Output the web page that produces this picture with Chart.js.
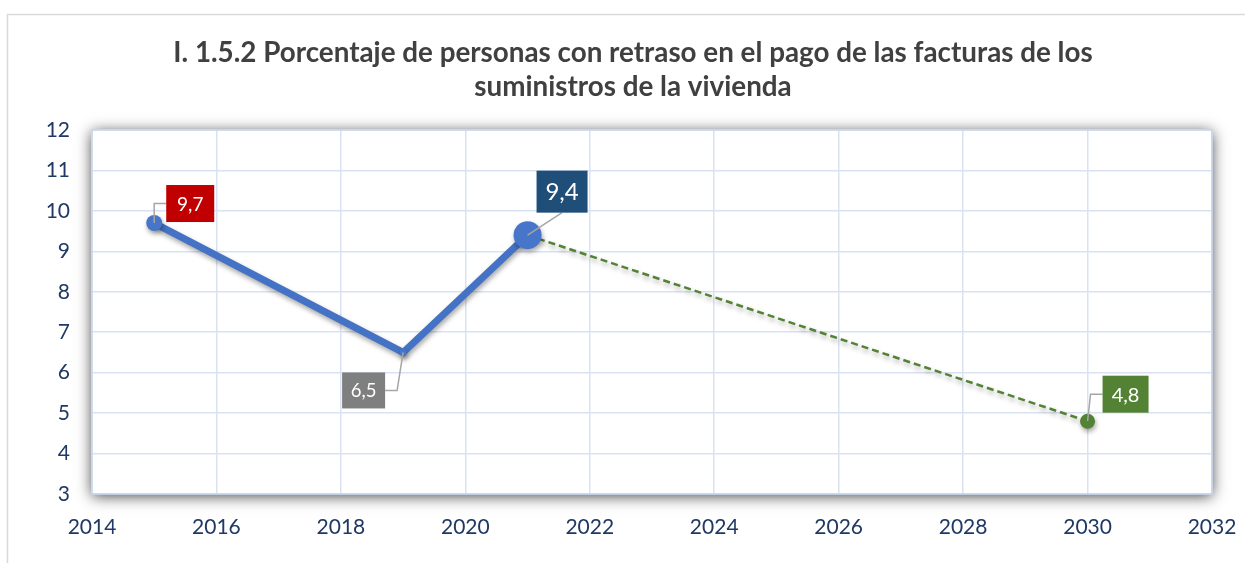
<!DOCTYPE html>
<html><head><meta charset="utf-8">
<script src="https://cdn.jsdelivr.net/npm/chart.js@4.4.1/dist/chart.umd.min.js"></script>
<style>html,body{margin:0;padding:0;background:#fff;overflow:hidden}canvas{display:block}</style>
</head><body>
<canvas id="c" width="1245" height="563"></canvas>
<script>
const titleLines = ['I. 1.5.2 Porcentaje de personas con retraso en el pago de las facturas de los', 'suministros de la vivienda'];
const actualYears = [2015, 2019, 2021];
const actualValues = [9.7, 6.5, 9.4];
const targetYears = [2021, 2030];
const targetValues = [9.4, 4.8];
const xTickValues = [2014, 2016, 2018, 2020, 2022, 2024, 2026, 2028, 2030, 2032];
const yTickValues = [3, 4, 5, 6, 7, 8, 9, 10, 11, 12];

// label box styling (offsets in pixels from the point, sizes, colours)
const labelStyles = [
  {ds: 0, i: 0, bg: '#c00000', size: 19, dx: 36, dy: -19.5, w: 48, h: 37, leader: 'elbow'},
  {ds: 0, i: 1, bg: '#7f7f7f', size: 18.5, dx: -39.5, dy: 38, w: 43, h: 36, leader: 'elbow'},
  {ds: 0, i: 2, bg: '#1f4e79', size: 24, dx: 34.5, dy: -43.5, w: 51, h: 42, leader: 'straight'},
  {ds: 1, i: 1, bg: '#548235', size: 20, dx: 38, dy: -27, w: 46, h: 37, leader: 'elbow'}
];

const fmt = v => v.toFixed(1).replace('.', ',');

const framePlugin = {
  id: 'frame',
  beforeDraw(chart) {
    const ctx = chart.ctx, a = chart.chartArea;
    ctx.save();
    ctx.fillStyle = '#fff';
    ctx.fillRect(0, 0, chart.width, chart.height);
    ctx.strokeStyle = '#d9d9d9';
    ctx.lineWidth = 1.5;
    ctx.strokeRect(7.5, 14.5, 1400, 700);
    ctx.shadowColor = 'rgba(0,0,0,0.75)';
    ctx.shadowBlur = 14;
    ctx.shadowOffsetX = 0;
    ctx.shadowOffsetY = 2;
    ctx.fillStyle = '#fff';
    ctx.fillRect(a.left, a.top, a.right - a.left, a.bottom - a.top);
    ctx.restore();
  },
  beforeDatasetsDraw(chart) {
    const ctx = chart.ctx, a = chart.chartArea;
    ctx.save();
    ctx.strokeStyle = '#c5d3ec';
    ctx.lineWidth = 1.5;
    ctx.strokeRect(a.left, a.top, a.right - a.left, a.bottom - a.top);
    ctx.restore();
  },
  beforeDatasetDraw(chart) {
    const ctx = chart.ctx;
    ctx.save();
    ctx.shadowColor = 'rgba(0,0,0,0.35)';
    ctx.shadowBlur = 5;
    ctx.shadowOffsetX = 1;
    ctx.shadowOffsetY = 3;
  },
  afterDatasetDraw(chart) {
    chart.ctx.restore();
  },
  afterDatasetsDraw(chart) {
    const ctx = chart.ctx;
    labelStyles.forEach(s => {
      const el = chart.getDatasetMeta(s.ds).data[s.i];
      const v = chart.data.datasets[s.ds].data[s.i].y;
      const px = el.x, py = el.y;
      const cx = px + s.dx, cy = py + s.dy;
      const bx = cx - s.w / 2, by = cy - s.h / 2;
      ctx.save();
      ctx.strokeStyle = '#a6a6a6';
      ctx.lineWidth = 1.5;
      ctx.beginPath();
      ctx.moveTo(px, py);
      if (s.leader === 'straight') {
        ctx.lineTo(cx, by + s.h);
      } else if (s.dx > 0) {
        ctx.lineTo(bx - 12, cy);
        ctx.lineTo(bx, cy);
      } else {
        ctx.lineTo(bx + s.w + 12, cy);
        ctx.lineTo(bx + s.w, cy);
      }
      ctx.stroke();
      ctx.fillStyle = s.bg;
      ctx.fillRect(bx, by, s.w, s.h);
      ctx.fillStyle = '#fff';
      ctx.font = s.size + 'px Lato';
      ctx.textAlign = 'center';
      ctx.textBaseline = 'middle';
      ctx.fillText(fmt(v), cx, cy + 1);
      ctx.restore();
    });
  },
  afterDraw(chart) {
    const ctx = chart.ctx;
    ctx.save();
    ctx.fillStyle = '#404040';
    ctx.font = 'bold 27.8px Lato';
    ctx.textAlign = 'center';
    ctx.textBaseline = 'alphabetic';
    ctx.fillText(titleLines[0], 633, 62);
    ctx.fillText(titleLines[1], 633, 96);
    ctx.restore();
  }
};

const tickFont = {family: 'Lato', size: 21};
const gridOpts = {color: '#d9e2f3', lineWidth: 1.5, drawTicks: false};

new Chart(document.getElementById('c'), {
  type: 'line',
  data: {
    datasets: [
      {
        data: actualYears.map((x, i) => ({x, y: actualValues[i]})),
        borderColor: '#4472c4',
        backgroundColor: '#4472c4',
        borderWidth: 7,
        pointRadius: [8, 3.5, 14],
        pointBackgroundColor: '#4775c9',
        pointBorderWidth: 0,
        borderJoinStyle: 'miter',
        tension: 0
      },
      {
        data: targetYears.map((x, i) => ({x, y: targetValues[i]})),
        borderColor: '#548235',
        backgroundColor: '#548235',
        borderWidth: 2.5,
        borderDash: [7, 4],
        pointRadius: [0, 7.5],
        pointBackgroundColor: '#548235',
        pointBorderWidth: 0,
        tension: 0
      }
    ]
  },
  options: {
    responsive: false,
    animation: false,
    devicePixelRatio: 1,
    events: [],
    layout: {padding: {left: 0, top: 130, right: 33, bottom: 0}},
    plugins: {legend: {display: false}, tooltip: {enabled: false}, title: {display: false}},
    scales: {
      x: {
        type: 'linear', min: 2014, max: 2032,
        afterBuildTicks: s => { s.ticks = xTickValues.map(v => ({value: v})); },
        afterFit: s => { s.height = 69; s.paddingLeft = 0; s.paddingRight = 0; },
        grid: gridOpts,
        border: {display: false},
        ticks: {padding: 21, color: '#1f3864', font: tickFont, callback: v => String(v), maxRotation: 0, autoSkip: false}
      },
      y: {
        type: 'linear', min: 3, max: 12,
        afterBuildTicks: s => { s.ticks = yTickValues.map(v => ({value: v})); },
        afterFit: s => { s.width = 92; s.paddingTop = 0; s.paddingBottom = 0; },
        grid: gridOpts,
        border: {display: false},
        ticks: {padding: 22, color: '#1f3864', font: tickFont, callback: v => String(v), autoSkip: false}
      }
    }
  },
  plugins: [framePlugin]
});
</script>
</body></html>
